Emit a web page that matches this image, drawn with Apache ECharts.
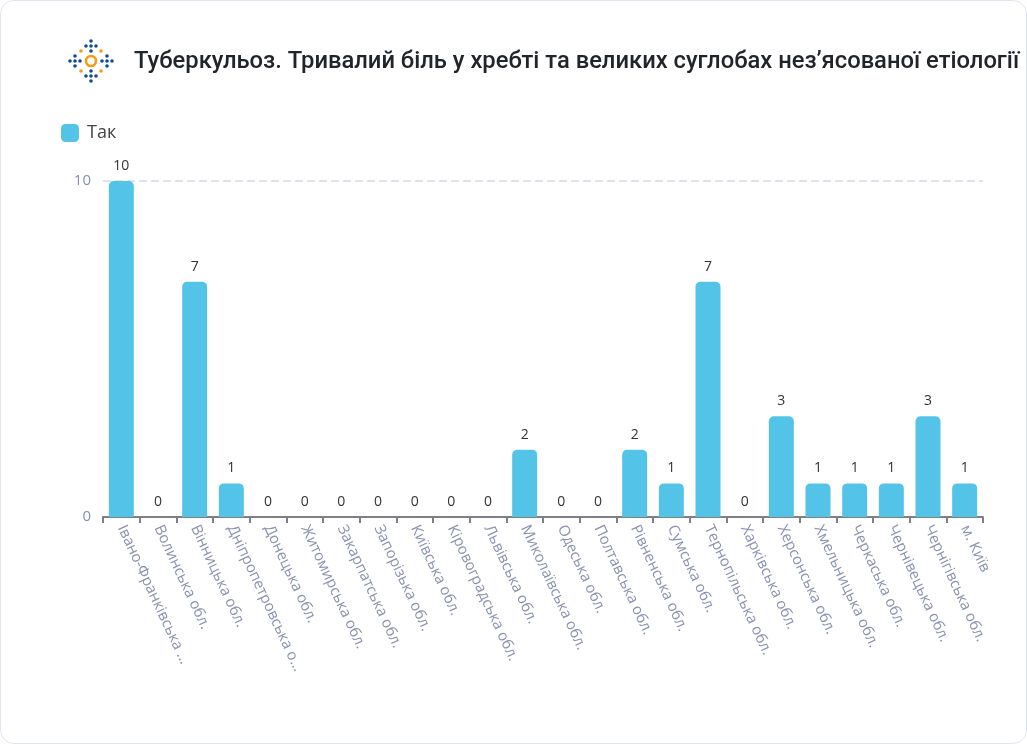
<!DOCTYPE html>
<html><head><meta charset="utf-8">
<style>
html,body{margin:0;padding:0;background:#fff;overflow:hidden}
#card{position:absolute;left:0;top:0;width:1025px;height:742px;border:1px solid #e2e3f0;border-radius:14px;background:#fff}
#c{position:absolute;left:0;top:0;width:1027px;height:744px}
</style>
<script src="https://cdn.jsdelivr.net/npm/echarts@6/dist/echarts.min.js"></script>
</head><body><div id="card"></div><div id="c"></div>
<script>
const titleText = 'Туберкульоз. Тривалий біль у хребті та великих суглобах нез’ясованої етіології';
const seriesName = 'Так';
const categories = ['Івано-Франківська обл.','Волинська обл.','Вінницька обл.','Дніпропетровська обл.','Донецька обл.','Житомирська обл.','Закарпатська обл.','Запорізька обл.','Київська обл.','Кіровоградська обл.','Львівська обл.','Миколаївська обл.','Одеська обл.','Полтавська обл.','Рівненська обл.','Сумська обл.','Тернопільська обл.','Харківська обл.','Херсонська обл.','Хмельницька обл.','Черкаська обл.','Чернівецька обл.','Чернігівська обл.','м. Київ'];
const values = [10,0,7,1,0,0,0,0,0,0,0,2,0,0,2,1,7,0,3,1,1,1,3,1];
const blueDots = [[91,41],[86,46],[91,46],[96,46],[91,51],[91,71],[86,76],[91,76],[96,76],[91,81],[70,61],[75,56],[75,61],[75,66],[80,61],[102,61],[107,56],[107,61],[107,66],[112,61]];
const orangeDots = [[81,51],[101,51],[81,71],[101,71]];
const chart = echarts.init(document.getElementById('c'), null, {renderer:'canvas'});
const logo = [
  ...blueDots.map(p=>({type:'circle',shape:{cx:p[0],cy:p[1],r:1.8},style:{fill:'#0f4c92'}})),
  ...orangeDots.map(p=>({type:'circle',shape:{cx:p[0],cy:p[1],r:1.8},style:{fill:'#f59c12'}})),
  {type:'circle',shape:{cx:91,cy:61,r:5},style:{fill:'none',stroke:'#f59c12',lineWidth:2.6}}
];
chart.setOption({
  animation:false,
  backgroundColor:'transparent',
  title:{text:titleText,left:129,top:45,textStyle:{fontFamily:'Roboto',fontSize:23.75,fontWeight:500,color:'#212529'}},
  legend:{left:56,top:119,itemWidth:18,itemHeight:18,icon:'roundRect',
    textStyle:{fontFamily:'Open Sans',fontSize:18,color:'#444',padding:[2,0,0,3]},data:[seriesName]},
  grid:{left:103,right:44,top:181,bottom:227},
  xAxis:{type:'category',data:categories,
    axisLine:{lineStyle:{color:'#7f7f88',width:2}},
    axisTick:{show:true,length:6,lineStyle:{color:'#7f7f88',width:2}},
    axisLabel:{interval:0,rotate:-65,margin:9,color:'#8a91b1',fontFamily:'Open Sans',fontSize:15,
      formatter:v=>v.length>20?v.slice(0,18)+'...':v}},
  yAxis:{type:'value',min:0,max:10,interval:10,
    axisLine:{show:false},axisTick:{show:false},
    axisLabel:{color:'#8a91b1',fontFamily:'Open Sans',fontSize:15,margin:12},
    splitLine:{lineStyle:{type:'dashed',color:'#e1e2ec',width:2}}},
  series:[{name:seriesName,type:'bar',data:values,barWidth:25,
    itemStyle:{color:'#54c3e8',borderRadius:[5,5,0,0]},
    label:{show:true,position:'top',distance:8,color:'#333',fontFamily:'Open Sans',fontSize:14}}],
  graphic:logo
});
</script></body></html>
